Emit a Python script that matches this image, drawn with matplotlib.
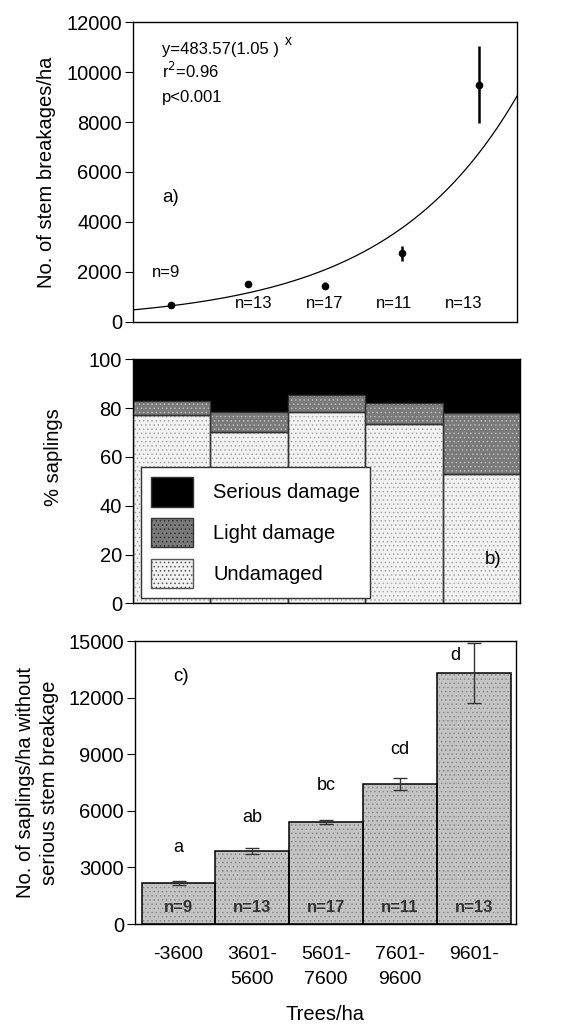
import numpy as np
import matplotlib
matplotlib.use("Agg")
import matplotlib.pyplot as plt
from matplotlib.patches import Patch

plt.rcParams['font.family'] = ['Liberation Sans', 'DejaVu Sans']
plt.rcParams['hatch.linewidth'] = 0.6

# ---------------- data ----------------
density_classes = ["-3600", "3601-\n5600", "5601-\n7600", "7601-\n9600", "9601-"]
n_labels = ["n=9", "n=13", "n=17", "n=11", "n=13"]

# panel a: stem breakages / ha
a_x = [6, 18, 30, 42, 54]
a_mean = [680, 1530, 1450, 2750, 9500]
a_err = [60, 80, 150, 300, 1550]
fit_a, fit_b = 483.57, 1.05

# panel b: % saplings
undamaged = [77, 70.3, 78.5, 73.5, 53]
light = [5.8, 8.2, 6.7, 8.7, 25.1]
serious = [100 - u - l for u, l in zip(undamaged, light)]

# panel c: saplings/ha without serious stem breakage
c_mean = [2170, 3850, 5400, 7420, 13320]
c_err = [120, 160, 90, 340, 1600]
c_letters = ["a", "ab", "bc", "cd", "d"]

FS = 14.5
SMALL = 12

fig = plt.figure(figsize=(5.72, 10.29), dpi=100)

# ---------------- panel a ----------------
axa = fig.add_axes([0.2325, 0.6871, 0.6713, 0.2915])
xx = np.linspace(0, 60, 300)
axa.plot(xx, fit_a * fit_b ** xx, color='black', lw=0.9)
axa.errorbar(a_x, a_mean, yerr=a_err, fmt='o', color='black', ms=4.5,
             elinewidth=1.8, capsize=0)
axa.set_xlim(0, 60)
axa.set_ylim(0, 12000)
axa.set_yticks(range(0, 12001, 2000))
axa.set_xticks([])
axa.tick_params(axis='y', direction='out', length=6, labelsize=FS, pad=2)
axa.set_ylabel("No. of stem breakages/ha", fontsize=FS)
axa.yaxis.set_label_coords(-0.2, 0.5)
axa.text(0.075, 0.895, r"y=483.57(1.05 )", transform=axa.transAxes, fontsize=SMALL)
axa.text(0.395, 0.925, "x", transform=axa.transAxes, fontsize=SMALL - 2)
axa.text(0.075, 0.815, r"r$^2$=0.96", transform=axa.transAxes, fontsize=SMALL)
axa.text(0.075, 0.735, "p<0.001", transform=axa.transAxes, fontsize=SMALL)
axa.text(0.075, 0.4, "a)", transform=axa.transAxes, fontsize=13.5)
n_pos_a = [(0.087, 0.15), (0.315, 0.045), (0.5, 0.045), (0.68, 0.045), (0.862, 0.045)]
for (px, py), lab in zip(n_pos_a, n_labels):
    axa.text(px, py, lab, transform=axa.transAxes, fontsize=SMALL, ha='center')
for s in axa.spines.values():
    s.set_linewidth(1.0)

# ---------------- panel b ----------------
axb = fig.add_axes([0.2325, 0.4137, 0.6766, 0.2371])
xb = np.arange(len(undamaged))
bottom2 = np.array(undamaged)
bottom3 = bottom2 + np.array(light)
axb.bar(xb, undamaged, width=1.0, color='#f2f2f2', edgecolor='#a8a8a8', hatch='....', lw=0)
axb.bar(xb, light, width=1.0, bottom=bottom2, color='#7a7a7a', edgecolor='#b8b8b8', hatch='....', lw=0)
axb.bar(xb, serious, width=1.0, bottom=bottom3, color='black', lw=0)
# outlines
axb.bar(xb, undamaged, width=1.0, fill=False, edgecolor='#333333', lw=1.0)
axb.bar(xb, light, width=1.0, bottom=bottom2, fill=False, edgecolor='#333333', lw=1.0)
axb.set_xlim(-0.5, 4.5)
axb.set_ylim(0, 100)
axb.set_yticks(range(0, 101, 20))
axb.set_xticks([])
axb.tick_params(axis='y', direction='out', length=6, labelsize=FS, pad=2)
axb.set_ylabel("% saplings", fontsize=FS)
axb.yaxis.set_label_coords(-0.18, 0.6)
axb.text(0.91, 0.16, "b)", transform=axb.transAxes, fontsize=13.5)
handles = [Patch(facecolor='black', edgecolor='#333333', label='Serious damage'),
           Patch(facecolor='#7a7a7a', edgecolor='#333333', hatch='....', label='Light damage'),
           Patch(facecolor='#f2f2f2', edgecolor='#555555', hatch='....', label='Undamaged')]
leg = axb.legend(handles=handles, loc='lower left', bbox_to_anchor=(0.02, 0.02),
                 fontsize=FS, frameon=True, fancybox=False, edgecolor='#333333',
                 handlelength=2.1, handleheight=1.9, labelspacing=0.55,
                 borderpad=0.5, handletextpad=1.0, borderaxespad=0)
leg.get_frame().set_linewidth(1.0)
leg.get_frame().set_alpha(1.0)
for s in axb.spines.values():
    s.set_linewidth(1.0)

# ---------------- panel c ----------------
axc = fig.add_axes([0.236, 0.1020, 0.6661, 0.2750])
xc = np.arange(len(c_mean))
axc.bar(xc, c_mean, width=1.0, color='#c4c4c4', edgecolor='#8a8a8a', hatch='....', lw=0)
axc.bar(xc, c_mean, width=1.0, fill=False, edgecolor='black', lw=1.1)
axc.errorbar(xc, c_mean, yerr=c_err, fmt='none', ecolor='#333333', elinewidth=1.0,
             capsize=5, capthick=1.0)
axc.set_xlim(-0.59, 4.57)
axc.set_ylim(0, 15000)
axc.set_yticks(range(0, 15001, 3000))
axc.set_xticks(xc)
axc.set_xticklabels(density_classes, fontsize=14, linespacing=1.6)
axc.tick_params(axis='x', length=0, pad=16)
axc.tick_params(axis='y', direction='out', length=6, labelsize=FS, pad=2)
axc.set_xlabel("Trees/ha", fontsize=FS, labelpad=12)
axc.set_ylabel("No. of saplings/ha without\nserious stem breakage", fontsize=FS,
               linespacing=1.3)
axc.yaxis.set_label_coords(-0.2, 0.5)
letter_off = [1900, 1800, 1950, 1850, 900]
letter_dx = [0, 0, 0, 0, -0.25]
for i, (m, lab) in enumerate(zip(c_mean, c_letters)):
    axc.text(xc[i] + letter_dx[i], m + letter_off[i], lab, ha='center', va='center',
             fontsize=13)
for i, lab in enumerate(n_labels):
    axc.text(xc[i], 900, lab, ha='center', va='center', fontsize=SMALL, weight='bold',
             color='#333333')
axc.text(0.1, 0.86, "c)", transform=axc.transAxes, fontsize=13.5)
for s in axc.spines.values():
    s.set_linewidth(1.0)

fig.savefig("out.png", dpi=100)
